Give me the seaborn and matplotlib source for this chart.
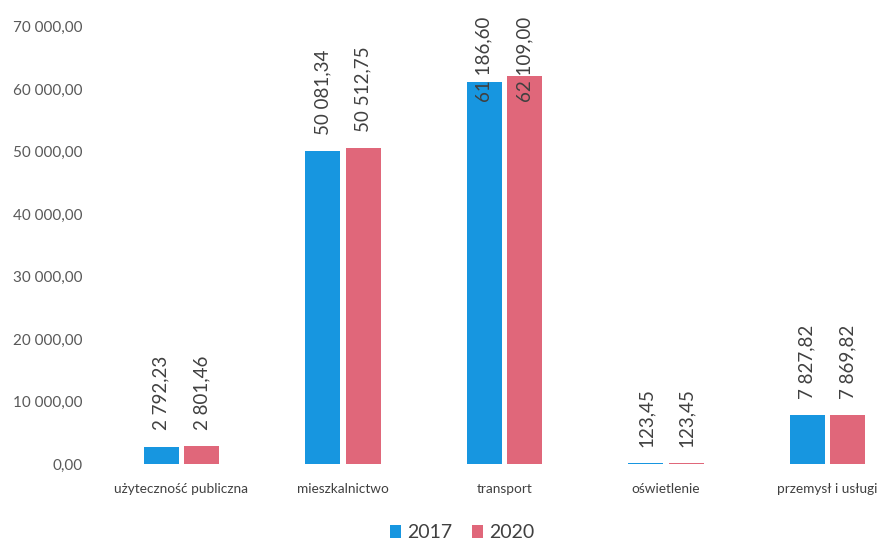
import matplotlib
matplotlib.use("Agg")
import matplotlib.pyplot as plt
import seaborn as sns
import pandas as pd

categories = ["użyteczność publiczna", "mieszkalnictwo", "transport", "oświetlenie", "przemysł i usługi"]
years = ["2017", "2020"]
values_2017 = [2792.23, 50081.34, 61186.60, 123.45, 7827.82]
values_2020 = [2801.46, 50512.75, 62109.00, 123.45, 7869.82]
y_ticks = [0, 10000, 20000, 30000, 40000, 50000, 60000, 70000]
colors = ["#1796e0", "#e0677a"]

def fmt(v):
    s = f"{v:,.2f}"
    return s.replace(",", " ").replace(".", ",")

df = pd.DataFrame({
    "kategoria": categories * 2,
    "rok": [years[0]] * len(categories) + [years[1]] * len(categories),
    "wartosc": values_2017 + values_2020,
})

sns.set_theme(style="white")
plt.rcParams["font.family"] = ["Lato", "DejaVu Sans"]

W, H = 882, 549
fig = plt.figure(figsize=(W / 100, H / 100), dpi=100)
ax = fig.add_axes([100.75 / W, 85 / H, 807.5 / W, (464 - 26.5) / H])

sns.barplot(data=df, x="kategoria", y="wartosc", hue="rok", palette=colors,
            width=0.50, gap=0.136, ax=ax, legend=False, saturation=1, linewidth=0)

ax.set_ylim(0, 70000)
ax.set_yticks(y_ticks)
ax.set_yticklabels([fmt(t) for t in y_ticks], color="#595959", fontsize=11)
ax.tick_params(axis="y", length=0, pad=13)
ax.tick_params(axis="x", length=0, pad=14, labelsize=9.8, labelcolor="#404040")
ax.set_xlabel("")
ax.set_ylabel("")
for s in ax.spines.values():
    s.set_visible(False)

# value labels (clamped to stay inside the chart area, as in the original)
pad = 2600
text_len = 15600
top_limit = 73500
for cont in ax.containers:
    for bar in cont:
        v = bar.get_height()
        x = bar.get_x() + bar.get_width() / 2
        y = min(v + pad, top_limit - text_len)
        ax.text(x, y, fmt(v), rotation=90, ha="center", va="bottom",
                fontsize=13.5, color="#404040", clip_on=False)

from matplotlib.patches import Patch
handles = [Patch(facecolor=c, edgecolor="none") for c in colors]
fig.legend(handles, years, loc="center", bbox_to_anchor=(462 / W, 1 - 533 / H),
           ncol=2, frameon=False, fontsize=14, handlelength=0.6, handleheight=0.6,
           handletextpad=0.3, columnspacing=1.0, labelcolor="#404040")

fig.savefig("out.png", dpi=100)
